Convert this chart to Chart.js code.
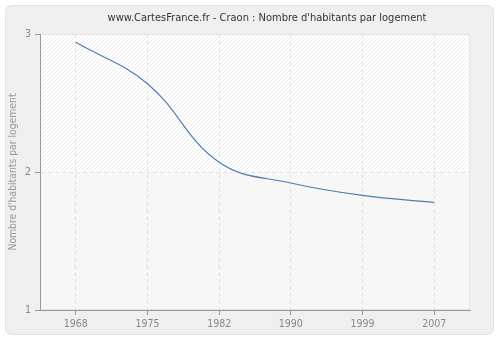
<!DOCTYPE html>
<html>
<head>
<meta charset="utf-8">
<script src="https://cdn.jsdelivr.net/npm/chart.js@4/dist/chart.umd.min.js"></script>
<style>
  html, body { margin: 0; padding: 0; background: #ffffff; }
  #wrap { width: 500px; height: 340px; }
</style>
</head>
<body>
<div id="wrap"><canvas id="graficaLogement" width="500" height="340"></canvas></div>
<script>
const annees = ['1968', '1975', '1982', '1990', '1999', '2007'];
const habitantsParLogement = [2.94, 2.64, 2.07, 1.92, 1.83, 1.78];
const ticksY = [1, 2, 3];
const titre = "www.CartesFrance.fr - Craon : Nombre d'habitants par logement";
const police = 'DejaVu Sans Condensed';

// motif hachuré pour le fond de la zone de tracé
function creerHachures(couleurFond, couleurTrait) {
  const c = document.createElement('canvas');
  c.width = 4; c.height = 4;
  const g = c.getContext('2d');
  g.fillStyle = couleurFond;
  g.fillRect(0, 0, 4, 4);
  g.strokeStyle = couleurTrait;
  g.lineWidth = 1;
  g.beginPath();
  g.moveTo(0, 4); g.lineTo(4, 0);
  g.moveTo(-2, 2); g.lineTo(2, -2);
  g.moveTo(2, 6); g.lineTo(6, 2);
  g.stroke();
  return g.createPattern(c, 'repeat');
}

const fondPlugin = {
  id: 'fond',
  beforeDraw(chart) {
    const ctx = chart.ctx;
    const a = chart.chartArea;
    ctx.save();
    // panneau gris arrondi
    ctx.fillStyle = '#ffffff';
    ctx.fillRect(0, 0, chart.width, chart.height);
    ctx.fillStyle = '#efefef';
    ctx.strokeStyle = '#e2e2e2';
    ctx.beginPath();
    ctx.roundRect(5.5, 5.5, 488, 329, 6);
    ctx.fill();
    ctx.stroke();
    // zone de tracé
    const y2 = chart.scales.y.getPixelForValue(2);
    ctx.fillStyle = creerHachures('#ffffff', '#ececec');
    ctx.fillRect(a.left, a.top, a.right - a.left, y2 - a.top);
    ctx.fillStyle = creerHachures('#f9f9f9', '#f0f0f0');
    ctx.fillRect(a.left, y2, a.right - a.left, a.bottom - y2);
    ctx.strokeStyle = '#e4e4e4';
    ctx.lineWidth = 1;
    ctx.strokeRect(a.left + 0.5, a.top + 0.5, a.right - a.left - 1, a.bottom - a.top - 1);
    // titre
    ctx.fillStyle = '#333333';
    ctx.font = '11px "' + police + '"';
    ctx.textAlign = 'center';
    ctx.textBaseline = 'middle';
    ctx.fillText(titre, 267, 18);
    ctx.restore();
  }
};

function crearGraficoLogement() {
  const ctx = document.getElementById('graficaLogement').getContext('2d');
  return new Chart(ctx, {
    type: 'line',
    data: {
      labels: annees,
      datasets: [{
        label: 'Nombre d\'habitants par logement',
        data: habitantsParLogement,
        borderColor: '#4f7db3',
        borderWidth: 1.2,
        pointRadius: 0,
        fill: false,
        tension: 0.4
      }]
    },
    options: {
      responsive: false,
      animation: false,
      layout: { padding: { top: 34, right: 30, left: 7, bottom: 0 } },
      plugins: {
        legend: { display: false },
        title: { display: false },
        tooltip: { enabled: false }
      },
      scales: {
        x: {
          offset: true,
          grid: {
            offset: false,
            color: '#e2e2e2',
            tickLength: 5,
            drawTicks: true,
            tickColor: '#999999'
          },
          border: { color: '#999999', dash: [4, 3] },
          ticks: { color: '#888888', font: { family: police, size: 10.5 }, padding: 3 },
          afterFit(scale) { scale.height = 30; }
        },
        y: {
          min: 1,
          max: 3,
          afterBuildTicks(scale) { scale.ticks = ticksY.map(v => ({ value: v })); },
          grid: {
            color: (c) => (c.tick && c.tick.value === 2 ? '#e2e2e2' : 'rgba(0,0,0,0)'),
            tickLength: 5,
            tickColor: '#999999'
          },
          border: { color: '#999999', dash: [4, 3] },
          ticks: { color: '#888888', font: { family: police, size: 10.5 }, padding: 4 },
          title: {
            display: true,
            text: 'Nombre d\'habitants par logement',
            color: '#999999',
            font: { family: police, size: 10.3 },
            padding: 0
          },
          afterFit(scale) { scale.width = 33; }
        }
      }
    },
    plugins: [fondPlugin]
  });
}

crearGraficoLogement();
</script>
</body>
</html>
